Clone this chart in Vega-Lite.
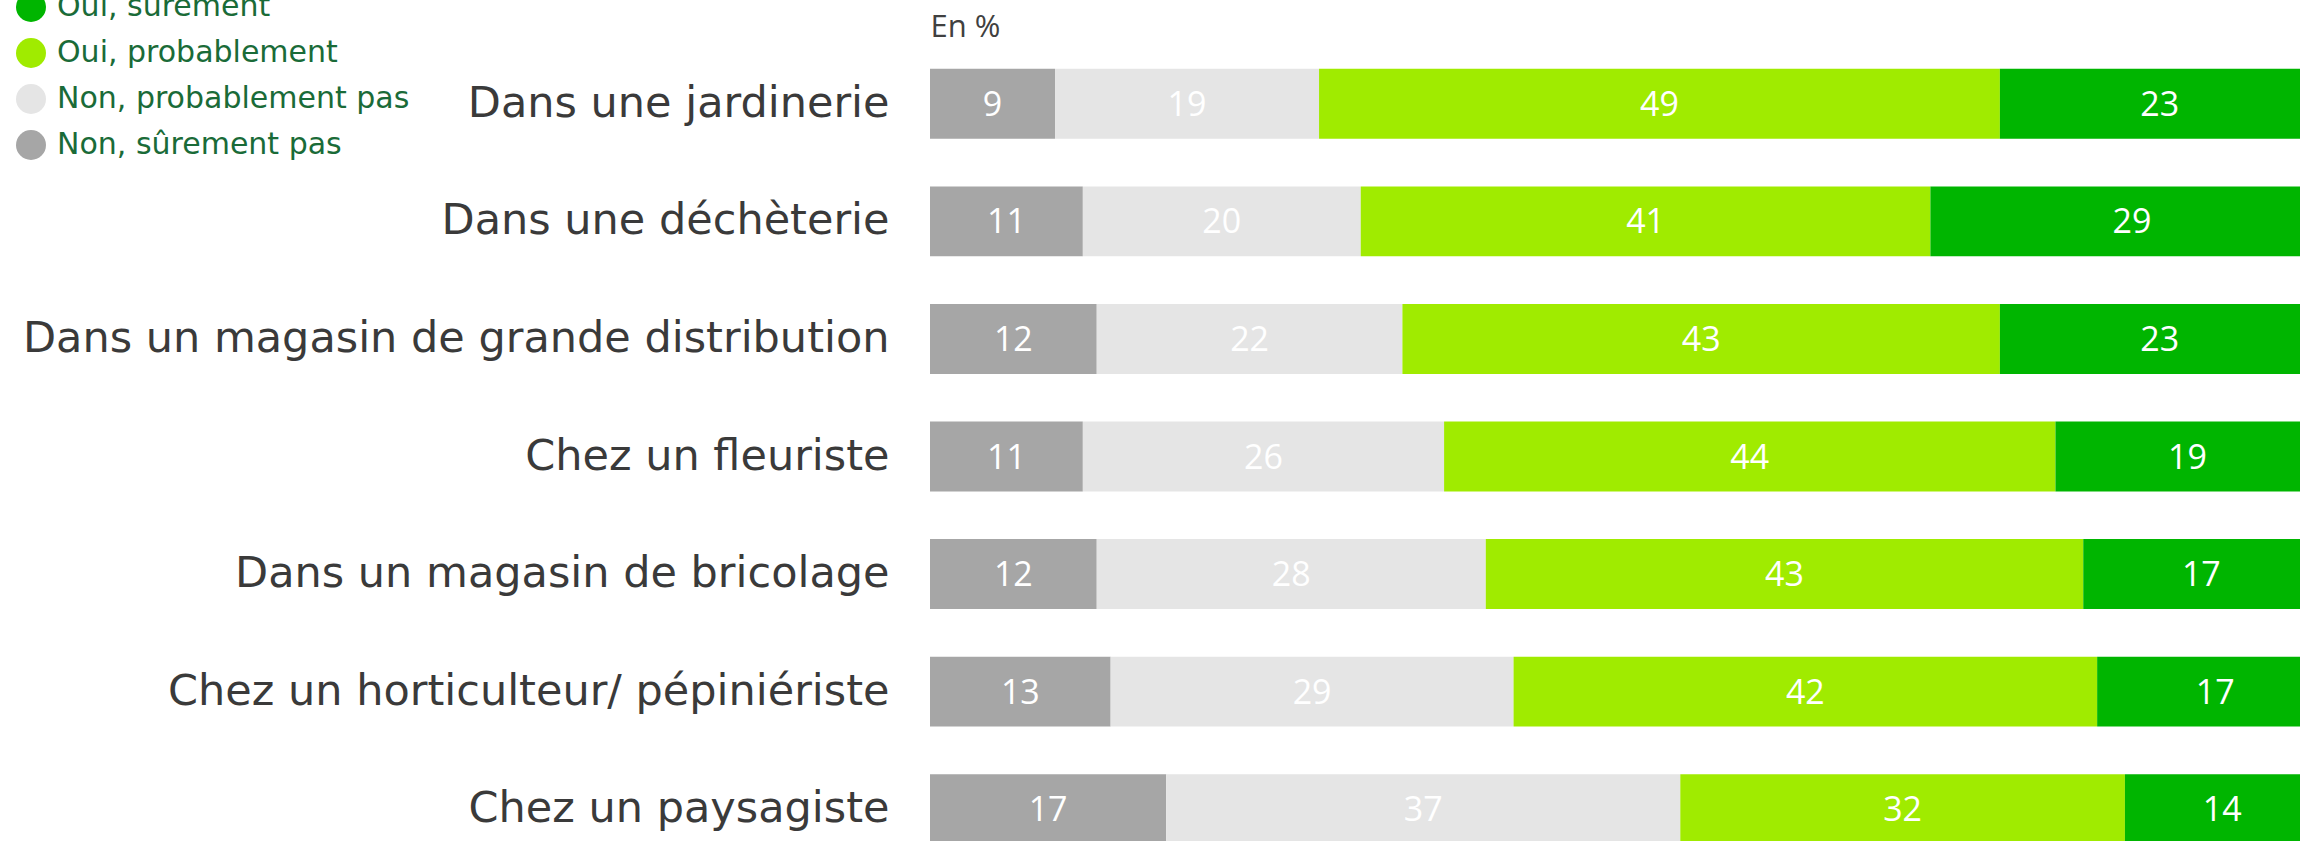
{
  "$schema": "https://vega.github.io/schema/vega-lite/v6.json",
  "autosize": {"type": "none"},
  "padding": {"left": 930, "top": 45, "right": 0, "bottom": 0},
  "width": 1370,
  "height": 796,
  "background": "white",
  "config": {"view": {"stroke": null}},
  "data": {"values": [
    {"lieu": "Dans une jardinerie", "rep": "Non, sûrement pas", "rank": 1, "v": 9},
    {"lieu": "Dans une jardinerie", "rep": "Non, probablement pas", "rank": 2, "v": 19},
    {"lieu": "Dans une jardinerie", "rep": "Oui, probablement", "rank": 3, "v": 49},
    {"lieu": "Dans une jardinerie", "rep": "Oui, sûrement", "rank": 4, "v": 23},
    {"lieu": "Dans une déchèterie", "rep": "Non, sûrement pas", "rank": 1, "v": 11},
    {"lieu": "Dans une déchèterie", "rep": "Non, probablement pas", "rank": 2, "v": 20},
    {"lieu": "Dans une déchèterie", "rep": "Oui, probablement", "rank": 3, "v": 41},
    {"lieu": "Dans une déchèterie", "rep": "Oui, sûrement", "rank": 4, "v": 29},
    {"lieu": "Dans un magasin de grande distribution", "rep": "Non, sûrement pas", "rank": 1, "v": 12},
    {"lieu": "Dans un magasin de grande distribution", "rep": "Non, probablement pas", "rank": 2, "v": 22},
    {"lieu": "Dans un magasin de grande distribution", "rep": "Oui, probablement", "rank": 3, "v": 43},
    {"lieu": "Dans un magasin de grande distribution", "rep": "Oui, sûrement", "rank": 4, "v": 23},
    {"lieu": "Chez un fleuriste", "rep": "Non, sûrement pas", "rank": 1, "v": 11},
    {"lieu": "Chez un fleuriste", "rep": "Non, probablement pas", "rank": 2, "v": 26},
    {"lieu": "Chez un fleuriste", "rep": "Oui, probablement", "rank": 3, "v": 44},
    {"lieu": "Chez un fleuriste", "rep": "Oui, sûrement", "rank": 4, "v": 19},
    {"lieu": "Dans un magasin de bricolage", "rep": "Non, sûrement pas", "rank": 1, "v": 12},
    {"lieu": "Dans un magasin de bricolage", "rep": "Non, probablement pas", "rank": 2, "v": 28},
    {"lieu": "Dans un magasin de bricolage", "rep": "Oui, probablement", "rank": 3, "v": 43},
    {"lieu": "Dans un magasin de bricolage", "rep": "Oui, sûrement", "rank": 4, "v": 17},
    {"lieu": "Chez un horticulteur/ pépiniériste", "rep": "Non, sûrement pas", "rank": 1, "v": 13},
    {"lieu": "Chez un horticulteur/ pépiniériste", "rep": "Non, probablement pas", "rank": 2, "v": 29},
    {"lieu": "Chez un horticulteur/ pépiniériste", "rep": "Oui, probablement", "rank": 3, "v": 42},
    {"lieu": "Chez un horticulteur/ pépiniériste", "rep": "Oui, sûrement", "rank": 4, "v": 17},
    {"lieu": "Chez un paysagiste", "rep": "Non, sûrement pas", "rank": 1, "v": 17},
    {"lieu": "Chez un paysagiste", "rep": "Non, probablement pas", "rank": 2, "v": 37},
    {"lieu": "Chez un paysagiste", "rep": "Oui, probablement", "rank": 3, "v": 32},
    {"lieu": "Chez un paysagiste", "rep": "Oui, sûrement", "rank": 4, "v": 14}
  ]},
  "transform": [
    {"stack": "v", "groupby": ["lieu"], "sort": [{"field": "rank", "order": "ascending"}], "as": ["v0", "v1"]},
    {"calculate": "(datum.v0 + datum.v1) / 2", "as": "mid"}
  ],
  "encoding": {
    "y": {
      "field": "lieu", "type": "nominal", "sort": null, "title": null,
      "scale": {"range": [0, 823], "paddingInner": 0.405, "paddingOuter": 0.2025},
      "axis": {"domain": false, "ticks": false, "labelPadding": 41, "labelFont": "DejaVu Sans", "labelFontSize": 43, "labelFontWeight": "normal", "labelColor": "#3a3a3a", "labelLimit": 1000}
    }
  },
  "layer": [
    {
      "mark": {"type": "bar", "clip": true},
      "encoding": {
        "x": {"field": "v0", "type": "quantitative", "scale": {"domain": [0, 98.6], "nice": false, "zero": true},
          "axis": {"orient": "top", "domain": false, "ticks": false, "labels": false, "grid": false, "title": "En %", "titleAnchor": "start", "titleAlign": "left", "titleBaseline": "bottom", "titlePadding": 2, "titleFont": "Open Sans", "titleFontSize": 31, "titleFontWeight": "normal", "titleColor": "#404040"}},
        "x2": {"field": "v1"},
        "color": {
          "field": "rep", "type": "nominal",
          "scale": {"domain": ["Oui, sûrement", "Oui, probablement", "Non, probablement pas", "Non, sûrement pas"], "range": ["#00b500", "#a0eb00", "#e5e5e5", "#a6a6a6"]},
          "legend": {"title": null, "orient": "none", "legendX": -914, "legendY": -53, "padding": 0, "symbolType": "circle", "symbolSize": 900, "symbolStrokeWidth": 0, "labelFont": "DejaVu Sans", "labelFontSize": 30, "labelColor": "#1a6b38", "labelOffset": 11, "rowPadding": 16, "labelLimit": 600}
        }
      }
    },
    {
      "mark": {"type": "text", "font": "Open Sans", "fontSize": 34, "color": "white", "align": "center", "baseline": "middle", "dy": 2, "clip": true},
      "encoding": {
        "x": {"field": "mid", "type": "quantitative"},
        "text": {"field": "v", "type": "quantitative"}
      }
    }
  ]
}
